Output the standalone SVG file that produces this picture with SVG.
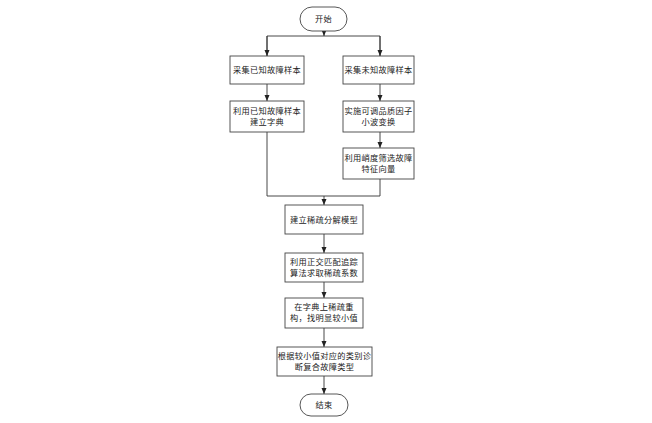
<svg xmlns="http://www.w3.org/2000/svg" width="652" height="423" viewBox="0 0 652 423">
<style>
.box{fill:#fff;stroke:#444;stroke-width:0.9}
.t{font-family:"Liberation Serif","Noto Sans CJK SC",serif;font-size:8.2px;fill:#222;text-anchor:middle;letter-spacing:0.3px}
.c{fill:none;stroke:#333;stroke-width:0.9}
</style>
<defs>
<marker id="ah" viewBox="0 0 6 6" refX="6" refY="3" markerWidth="6" markerHeight="6" orient="auto" markerUnits="userSpaceOnUse">
<path d="M0,0.5 L6,3 L0,5.5 Z" fill="#222"/>
</marker>
</defs>
<rect width="652" height="423" fill="#fff"/>
<g id="connectors">
<path class="c" d="M324,31 V36" marker-end="url(#ah)"/>
<path class="c" d="M267,56 V36 H380 V56"/>
<path class="c" d="M267,36 V56" marker-end="url(#ah)"/>
<path class="c" d="M380,36 V56" marker-end="url(#ah)"/>
<path class="c" d="M267,84 V101" marker-end="url(#ah)"/>
<path class="c" d="M380,84 V101" marker-end="url(#ah)"/>
<path class="c" d="M380,132 V148" marker-end="url(#ah)"/>
<path class="c" d="M267,132 V196 H380 V179"/>
<path class="c" d="M324,196 V205" marker-end="url(#ah)"/>
<path class="c" d="M324,234 V253" marker-end="url(#ah)"/>
<path class="c" d="M324,282 V298" marker-end="url(#ah)"/>
<path class="c" d="M324,328 V347" marker-end="url(#ah)"/>
<path class="c" d="M324,376 V394" marker-end="url(#ah)"/>
</g>
<g id="start"><rect class="box" x="300" y="7" width="47" height="24" rx="12"/><text class="t" x="323.5" y="22">开始</text></g>
<g id="n1"><rect class="box" x="230" y="56" width="74" height="28"/><text class="t" x="267" y="73">采集已知故障样本</text></g>
<g id="n2"><rect class="box" x="343" y="56" width="71" height="28"/><text class="t" x="378.5" y="73">采集未知故障样本</text></g>
<g id="n3"><rect class="box" x="230" y="101" width="74" height="31"/><text class="t" x="267" y="113.5">利用已知故障样本</text><text class="t" x="267" y="124.5">建立字典</text></g>
<g id="n4"><rect class="box" x="343" y="101" width="71" height="31"/><text class="t" x="378.5" y="113.5">实施可调品质因子</text><text class="t" x="378.5" y="124.5">小波变换</text></g>
<g id="n5"><rect class="box" x="343" y="148" width="71" height="31"/><text class="t" x="378.5" y="160.5">利用峭度筛选故障</text><text class="t" x="378.5" y="171.5">特征向量</text></g>
<g id="n6"><rect class="box" x="285" y="205" width="78" height="29"/><text class="t" x="324" y="222.5">建立稀疏分解模型</text></g>
<g id="n7"><rect class="box" x="285" y="253" width="78" height="29"/><text class="t" x="324" y="264.5">利用正交匹配追踪</text><text class="t" x="324" y="275.5">算法求取稀疏系数</text></g>
<g id="n8"><rect class="box" x="285" y="298" width="78" height="30"/><text class="t" x="324" y="310">在字典上稀疏重</text><text class="t" x="324" y="321">构，找明显较小值</text></g>
<g id="n9"><rect class="box" x="277" y="347" width="95" height="29"/><text class="t" x="324.5" y="358.5">根据较小值对应的类别诊</text><text class="t" x="324.5" y="369.5">断复合故障类型</text></g>
<g id="end"><rect class="box" x="300" y="394" width="48" height="22" rx="11"/><text class="t" x="324" y="408">结束</text></g>
</svg>
